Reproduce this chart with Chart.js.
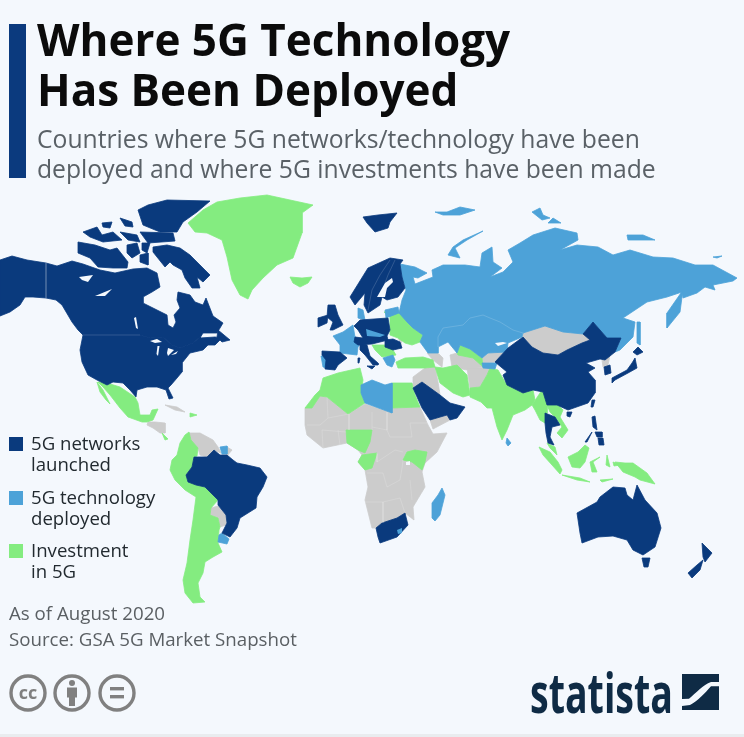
<!DOCTYPE html>
<html><head><meta charset="utf-8">
<script src="https://cdn.jsdelivr.net/npm/chart.js@4"></script>
<style>
html,body{margin:0;padding:0;background:#f4f8fd;width:744px;height:737px;overflow:hidden}
#wrap{position:relative;width:744px;height:737px;font-family:"Open Sans",sans-serif}
canvas{position:absolute;left:0;top:0}
.t{position:absolute;white-space:nowrap}
.sw{position:absolute;left:9px;width:14px;height:14px}
.lg{left:31px;font-size:18.6px;line-height:21px;color:#222a30}
.ft{left:9px;font-size:18.7px;line-height:24px;color:#5a5f63}
</style></head><body><div id="wrap">
<canvas id="c" width="744" height="737"></canvas>
<div class="t" style="left:0;top:734px;width:744px;height:3px;background:#e9ecef"></div>
<div class="t" style="left:9px;top:24px;width:17px;height:154px;background:#0b3a7e"></div>
<div class="t" style="left:37px;top:16.5px;font-size:44px;font-weight:700;line-height:44px;color:#0b0b0b">Where 5G Technology</div>
<div class="t" style="left:37px;top:66.5px;font-size:44px;font-weight:700;line-height:44px;color:#0b0b0b">Has Been Deployed</div>
<div class="t" style="left:37px;top:123.5px;font-size:24.7px;line-height:30px;color:#5a6167">Countries where 5G networks/technology have been</div>
<div class="t" style="left:37px;top:153.5px;font-size:24.7px;line-height:30px;color:#5a6167">deployed and where 5G investments have been made</div>
<div class="sw" style="top:437px;background:#0a3a7d"></div>
<div class="t lg" style="top:432px">5G networks<br>launched</div>
<div class="sw" style="top:491px;background:#4da2d8"></div>
<div class="t lg" style="top:486px">5G technology<br>deployed</div>
<div class="sw" style="top:544px;background:#84ec80"></div>
<div class="t lg" style="top:539px">Investment<br>in 5G</div>
<div class="t ft" style="top:601px">As of August 2020</div>
<div class="t ft" style="top:627px">Source: GSA 5G Market Snapshot</div>
<svg class="t" style="left:0;top:665px" width="140" height="60" fill="none">
<g stroke="#808080" stroke-width="3.4"><circle cx="28" cy="28" r="17"/><circle cx="72" cy="28" r="17"/><circle cx="117" cy="28" r="17"/></g>
<text x="28" y="34" font-family="Open Sans" font-size="18" font-weight="700" fill="#808080" text-anchor="middle">cc</text>
<g fill="#808080"><circle cx="72" cy="18" r="3"/><rect x="67" y="22.5" width="10" height="10"/><rect x="69" y="32" width="6" height="9"/><rect x="110" y="22" width="14" height="3.4"/><rect x="110" y="30" width="14" height="3.4"/></g>
</svg>
<div class="t" style="left:530px;top:656px;font-weight:700;font-size:56px;line-height:70px;color:#0f2b45;transform-origin:0 0;transform:scaleX(.67)">statista</div>
<svg class="t" style="left:682px;top:674px" width="37" height="37" fill="#0f2b45"><path d="M0 0H37V8H29C21 11 14 19 7 24.7L0 25Z"/><path d="M37 12.3H29C23 19 16 27 8 31L0 32V36H37Z"/></svg>
</div>
<script>
// Outlines, in its own map units (x across, y down).
const alaska=[[0,260],[12,256],[27,260],[46,263],[46,298],[33,297],[25,297],[20,305],[10,312],[0,316]];
const canada=[[46,263],[57,266],[72,261],[83,264],[100,270],[115,273],[133,269],[147,268],[157,273],[160,287],[152,292],[143,297],[143,303],[155,309],[167,315],[168,325],[173,328],[176,322],[174,315],[180,308],[177,300],[178,292],[190,295],[195,302],[203,305],[206,298],[213,316],[223,323],[217,333],[203,333],[200,338],[215,337],[222,338],[215,345],[208,345],[200,337],[193,343],[180,348],[172,345],[163,337],[150,338],[140,335],[83,335],[78,330],[72,322],[62,305],[56,300],[46,298]];
const newfoundland=[[218,330],[230,340],[222,342],[217,337]];
const baffin=[[153,247],[167,245],[180,248],[190,255],[200,265],[210,275],[203,282],[197,277],[200,288],[192,288],[185,278],[182,270],[173,265],[170,262],[165,267],[157,257],[153,252]];
const victoria=[[78,242],[95,245],[110,250],[117,248],[128,262],[127,268],[113,268],[98,267],[90,258],[78,253]];
const ellesmere=[[148,205],[167,200],[210,201],[197,212],[183,222],[177,232],[160,232],[143,225],[138,210]];
const arcticA=[[83,232],[97,227],[102,235],[113,232],[122,240],[103,242],[90,237]];
const arcticB=[[120,218],[132,222],[133,227],[125,226]];
const arcticC=[[120,232],[137,235],[140,242],[128,240]];
const arcticD=[[127,245],[137,243],[140,253],[132,258],[127,253]];
const arcticE=[[140,255],[148,253],[148,265],[140,262]];
const arcticF=[[142,243],[150,243],[147,253],[142,250]];
const arcticG=[[140,232],[173,233],[175,241],[148,243]];
const arcticH=[[102,223],[112,222],[110,228],[103,227]];
const usa=[[83,335],[140,335],[150,338],[163,337],[172,345],[180,348],[193,343],[200,337],[208,345],[203,350],[190,353],[182,363],[182,372],[177,378],[171,385],[168,388],[173,398],[169,399],[166,390],[157,387],[147,387],[137,390],[136,397],[130,390],[123,383],[113,382],[107,385],[97,380],[88,375],[82,362],[80,350]];
const brazil=[[207,457],[214,450],[220,455],[227,455],[233,460],[237,463],[247,465],[260,468],[267,477],[263,487],[257,497],[256,508],[248,513],[240,518],[237,528],[230,537],[222,533],[227,523],[226,515],[218,505],[218,500],[205,487],[196,485],[188,482],[186,475],[192,467],[194,457],[202,457]];
const uk=[[328,305],[335,305],[338,315],[343,325],[333,330],[330,330],[333,322],[327,317]];
const ireland=[[318,318],[328,315],[327,323],[318,327]];
const spain=[[322,351],[340,352],[347,358],[338,365],[335,370],[325,369],[326,360],[322,355]];
const scandinavia=[[350,297],[368,268],[390,258],[403,260],[400,264],[402,277],[405,288],[398,297],[387,300],[382,297],[380,305],[368,313],[364,305],[365,293],[355,305]];
const svalbard=[[363,217],[378,215],[397,213],[390,222],[388,228],[375,232],[367,223]];
const centralEurope=[[354,326],[360,320],[388,318],[390,330],[387,336],[388,340],[372,344],[358,345],[354,342],[355,337],[363,338],[358,330]];
const italy=[[360,343],[367,345],[370,356],[378,363],[378,365],[373,365],[365,355],[360,350]];
const sicily=[[367,366],[375,366],[372,369]];
const sardinia=[[358,358],[360,358],[359,363],[358,363]];
const romania=[[385,340],[393,339],[400,342],[402,348],[393,350],[385,347]];
const china=[[593,322],[607,338],[621,338],[615,352],[605,360],[600,359],[586,363],[595,368],[588,372],[595,380],[595,393],[588,403],[568,410],[557,405],[547,405],[543,392],[533,390],[523,393],[507,385],[503,375],[507,372],[495,362],[508,348],[523,337],[532,347],[543,353],[558,355],[567,350],[582,343],[590,340],[583,334]];
const southKorea=[[604,367],[610,365],[611,373],[605,375]];
const honshu=[[635,358],[637,368],[628,373],[615,380],[612,383],[612,378],[627,370],[632,363]];
const hokkaido=[[633,352],[638,347],[643,352],[637,355]];
const taiwan=[[592,400],[595,400],[593,407],[591,407]];
const hainan=[[567,412],[572,412],[570,417],[567,416]];
const luzon=[[592,417],[595,416],[597,430],[593,427]];
const visayas=[[595,432],[602,432],[602,437],[597,437]];
const mindanao=[[598,438],[603,438],[604,445],[599,445]];
const palawan=[[585,442],[592,432],[587,442]];
const thailand=[[545,413],[555,417],[560,425],[552,427],[550,437],[554,445],[548,443],[546,433],[545,423]];
const saudi=[[413,388],[422,382],[440,395],[450,403],[465,407],[457,418],[450,420],[447,415],[430,420],[422,408]];
const southAfrica=[[376,528],[382,523],[397,518],[405,513],[408,525],[397,537],[380,543],[378,537]];
const australia=[[577,513],[597,502],[600,497],[613,487],[625,488],[627,495],[633,500],[637,485],[645,500],[657,513],[661,528],[655,547],[643,555],[633,550],[627,540],[613,536],[598,537],[582,543],[580,533]];
const tasmania=[[642,558],[650,558],[648,567],[644,567]];
const nzNorth=[[702,543],[712,553],[705,562],[703,557]];
const nzSouth=[[703,560],[700,570],[692,578],[688,573],[697,565]];

const russiaKazakhstan=[[400,264],[415,267],[427,273],[418,278],[413,277],[415,284],[433,277],[432,270],[443,265],[465,265],[480,267],[482,253],[492,247],[493,262],[502,268],[490,277],[503,272],[513,262],[508,250],[520,243],[533,235],[555,228],[577,233],[578,240],[560,250],[577,245],[598,247],[613,255],[630,250],[653,257],[673,258],[695,265],[713,265],[737,278],[733,281],[713,285],[715,290],[705,287],[697,293],[683,298],[682,292],[667,297],[647,302],[623,318],[635,322],[633,337],[620,350],[615,352],[621,338],[607,338],[593,322],[583,334],[563,332],[545,326],[523,333],[522,337],[508,343],[507,352],[488,353],[482,358],[470,349],[460,345],[457,353],[448,342],[438,347],[438,353],[428,353],[420,342],[423,335],[413,328],[407,322],[399,313],[402,300],[406,290],[402,277]];
const kamchatka=[[683,290],[667,313],[667,328],[680,312],[682,297]];
const sakhalin=[[637,322],[640,322],[640,345],[637,343]];
const novayaZemlya=[[483,231],[463,240],[453,247],[448,255],[460,258],[455,248],[467,240]];
const franzJosef=[[435,212],[447,212],[460,207],[475,210],[460,215],[443,215]];
const severnayaA=[[532,212],[540,208],[543,215],[550,218],[542,220]];
const severnayaB=[[548,223],[553,218],[561,223]];
const newSiberian=[[627,235],[643,235],[655,240],[643,240],[628,240]];
const wrangel=[[713,257],[722,256],[717,258]];
const suriname=[[220,447],[227,446],[227,454],[222,454]];
const uruguay=[[222,533],[229,539],[227,544],[218,542],[219,535]];
const baltics=[[385,310],[398,307],[399,313],[386,318]];
const denmark=[[358,308],[363,310],[365,320],[358,318]];
const france=[[333,336],[343,332],[353,325],[355,337],[363,340],[358,347],[357,355],[340,353],[340,345]];
const portugal=[[321,356],[326,356],[327,368],[323,367]];
const greece=[[383,358],[393,355],[395,360],[392,367],[387,365]];
const libya=[[361,385],[372,380],[385,385],[392,383],[392,413],[365,403],[361,393]];
const madagascar=[[442,488],[445,495],[440,515],[435,521],[432,518],[432,503],[438,495]];
const sriLanka=[[507,438],[511,443],[508,446],[506,443]];
const tajikistan=[[482,363],[497,363],[495,369],[483,368]];
const czechia=[[366,329],[385,335],[380,337],[367,336]];
const lesotho=[[397,530],[402,528],[402,533],[398,534]];

const greenland=[[188,223],[203,210],[217,202],[240,198],[267,195],[290,200],[313,205],[302,213],[302,233],[293,258],[277,265],[263,278],[252,290],[248,299],[240,295],[232,280],[227,257],[222,240],[207,233],[195,232]];
const iceland=[[290,277],[302,278],[312,277],[308,283],[300,287],[293,283]];
const mexico=[[98,382],[107,383],[120,387],[135,397],[138,403],[140,415],[150,415],[152,410],[158,409],[153,420],[147,422],[142,422],[128,417],[120,408],[110,395],[103,387]];
const baja=[[97,382],[103,390],[110,404],[106,400],[100,392]];
const panama=[[162,433],[168,439],[165,440]];
const dominican=[[190,413],[197,415],[190,417]];
const andes=[[189,432],[191,440],[198,448],[197,456],[194,457],[192,467],[186,475],[188,482],[196,485],[205,487],[213,495],[218,500],[211,508],[210,515],[218,518],[220,527],[219,530],[218,543],[222,552],[213,557],[205,562],[203,573],[198,583],[200,597],[205,602],[193,603],[185,593],[183,580],[187,563],[190,540],[193,520],[196,497],[185,490],[175,480],[170,470],[172,460],[177,455],[180,443],[185,435]];
const belarusUkraine=[[384,312],[398,310],[407,322],[413,328],[423,335],[420,342],[412,345],[405,343],[398,338],[390,335],[390,317]];
const balkans=[[372,345],[385,345],[393,350],[396,355],[382,357],[375,350]];
const turkey=[[396,362],[405,358],[423,357],[433,360],[435,367],[425,368],[407,368],[398,368]];
const maghreb=[[305,408],[315,395],[320,390],[323,378],[338,373],[360,368],[363,380],[361,393],[365,403],[348,414],[327,397],[320,396],[312,408]];
const egypt=[[392,383],[412,383],[415,395],[420,407],[392,408]];
const nigeria=[[346,430],[372,430],[370,442],[365,453],[358,450],[347,443]];
const gabon=[[358,462],[362,455],[377,453],[372,468],[365,470]];
const kenyaUganda=[[403,460],[407,452],[415,450],[427,452],[425,462],[422,470],[412,462]];
const iran=[[435,367],[443,368],[457,365],[467,375],[470,395],[463,397],[453,393],[440,383]];
const turkmenUzbek=[[457,353],[460,345],[470,349],[482,358],[483,367],[473,358],[458,355]];
const southAsia=[[470,388],[480,387],[487,375],[490,368],[498,370],[505,382],[513,388],[523,393],[533,390],[535,400],[532,405],[525,410],[513,415],[507,430],[502,440],[497,427],[492,408],[487,408],[481,402],[470,397]];
const myanmar=[[532,405],[542,390],[547,403],[547,413],[545,423],[540,420],[535,410]];
const indochina=[[547,405],[558,405],[563,410],[560,417],[568,430],[562,438],[557,433],[562,427],[555,417],[550,412]];
const malaya=[[547,443],[555,447],[557,455],[550,448]];
const sumatra=[[539,447],[550,452],[558,462],[562,470],[560,474],[552,465],[543,455]];
const borneo=[[568,457],[578,452],[585,445],[589,448],[585,462],[580,468],[572,467]];
const java=[[562,475],[580,478],[590,482],[577,480]];
const sulawesi=[[590,462],[600,457],[593,462],[597,472],[592,472]];
const halmahera=[[607,455],[610,467],[606,465]];
const ceram=[[613,462],[620,465],[614,466]];
const timor=[[600,480],[613,479],[602,482]];
const newGuinea=[[615,462],[625,463],[633,463],[647,473],[655,484],[640,480],[635,477],[623,472]];

const africaGrey=[[305,408],[312,408],[320,396],[327,397],[348,414],[365,404],[392,413],[392,408],[420,407],[428,425],[433,434],[447,433],[437,452],[425,463],[422,472],[425,487],[413,507],[414,520],[405,513],[397,518],[382,523],[376,528],[372,528],[365,500],[368,487],[365,470],[358,462],[362,455],[358,450],[347,443],[323,448],[307,435],[305,425]];
const mongolia=[[523,333],[545,326],[563,332],[583,334],[590,340],[582,343],[567,350],[558,355],[543,353],[532,347],[523,337]];
const northKorea=[[602,360],[610,355],[608,365],[603,367]];
const levantIraq=[[413,387],[413,377],[425,368],[435,367],[438,382],[440,395],[422,382]];
const yemenOman=[[430,420],[447,415],[450,420],[433,429]];
const afghanistan=[[467,368],[490,368],[487,375],[480,387],[470,388]];
const caucasus=[[427,353],[438,353],[443,358],[442,367],[433,360]];
const caspianEast=[[450,355],[457,353],[473,358],[483,367],[477,368],[467,370],[452,367]];
const kyrgyzstan=[[482,358],[488,353],[507,352],[498,362],[483,363]];
const centralAmerica=[[148,422],[155,422],[165,423],[165,433],[160,433],[153,428],[147,425]];
const cuba=[[165,405],[177,407],[185,412],[175,410]];
const venezuelaGuyana=[[189,433],[200,433],[213,440],[218,447],[221,453],[214,450],[207,457],[200,455],[198,448],[192,442]];
const frenchGuiana=[[227,447],[232,450],[227,456]];
const paraguay=[[211,508],[218,506],[226,515],[226,525],[220,527],[218,518],[210,515]];
const moldova=[[398,337],[402,337],[401,345]];

const lakeSuperior=[[150,341],[157,339],[162,342],[155,343]];
const lakeMichigan=[[157.5,346],[159.5,346],[158,356],[156.5,354]];
const lakeHuron=[[168,348],[174,350],[168,356],[167,353]];
const lakeErie=[[171,355],[178,351],[176,354]];
const lakeWinnipeg=[[134,318],[136,317],[138,329],[136,328]];
const greatSlave=[[95,296],[112,289],[105,296]];
const greatBear=[[79,277],[93,275],[88,282],[82,280]];
const bothnia=[[377,297],[385,283],[392,278],[393,282],[387,288],[385,297]];
const balkhash=[[495,343],[503,342],[507,343],[498,346]];
const lakeVictoria=[[406,462],[410,461],[410,465],[406,465]];

// faint internal borders
const borderUsCanada=[[83,335],[140,335]];
const borderAlaska=[[46,263],[46,298]];
const borderKazakh=[[438,347],[438,337],[443,328],[463,325],[470,318],[483,315],[490,318],[500,322],[513,330],[523,333]];
const borderNorway=[[390,260],[380,275],[372,290],[368,310]];
const borderFinland=[[395,260],[388,275],[385,283]];
const borderA=[[327,397],[328,418],[349,414]];
const borderB=[[349,414],[349,430]];
const borderC=[[372,430],[372,412]];
const borderD=[[372,427],[387,430],[390,437],[412,437],[410,423],[428,423]];
const borderE=[[387,412],[387,430]];
const borderF=[[307,425],[320,425],[328,418]];
const borderG=[[323,448],[322,430],[346,432]];
const borderH=[[340,445],[338,430]];
const borderI=[[367,473],[383,473],[387,487],[400,480],[402,468],[403,460]];
const borderJ=[[365,502],[383,502],[383,523]];
const borderK=[[383,502],[400,498],[405,513]];
const borderL=[[410,480],[412,500]];
const borderM=[[377,453],[377,462],[395,450],[403,452]];

const launched=[alaska,canada,newfoundland,baffin,victoria,ellesmere,arcticA,arcticB,arcticC,arcticD,arcticE,arcticF,arcticG,arcticH,usa,brazil,uk,ireland,spain,scandinavia,svalbard,centralEurope,italy,sicily,sardinia,romania,china,southKorea,honshu,hokkaido,taiwan,hainan,luzon,visayas,mindanao,palawan,thailand,saudi,southAfrica,australia,tasmania,nzNorth,nzSouth];
const deployed=[russiaKazakhstan,kamchatka,sakhalin,novayaZemlya,franzJosef,severnayaA,severnayaB,newSiberian,wrangel,suriname,uruguay,baltics,denmark,france,portugal,greece,libya,madagascar,sriLanka,tajikistan];
const deployedOnTop=[czechia,lesotho];
const investment=[greenland,iceland,mexico,baja,panama,dominican,andes,belarusUkraine,balkans,turkey,maghreb,egypt,nigeria,gabon,kenyaUganda,iran,turkmenUzbek,southAsia,myanmar,indochina,malaya,sumatra,borneo,java,sulawesi,halmahera,ceram,timor,newGuinea];
const noData=[africaGrey,mongolia,northKorea,levantIraq,yemenOman,afghanistan,caucasus,caspianEast,kyrgyzstan,centralAmerica,cuba,venezuelaGuyana,frenchGuiana,paraguay,moldova];
const water=[lakeSuperior,lakeMichigan,lakeHuron,lakeErie,lakeWinnipeg,greatSlave,greatBear,bothnia,balkhash,lakeVictoria];
const borders=[borderUsCanada,borderAlaska,borderKazakh,borderNorway,borderFinland,borderA,borderB,borderC,borderD,borderE,borderF,borderG,borderH,borderI,borderJ,borderK,borderL,borderM];

const mapWidth=744, mapHeight=737;
const colors={launched:'#0a3a7d',deployed:'#4da2d8',investment:'#84ec80',noData:'#cccccc',water:'#f4f8fd',border:'rgba(255,255,255,0.2)'};
function toDatasets(list,color,order){
  return list.map(poly=>({
    data:poly.concat([poly[0]]).map(p=>({x:p[0],y:p[1]})),
    showLine:true,fill:'shape',tension:0,pointRadius:0,order:order,
    backgroundColor:color,borderColor:color,borderWidth:order<2?0:0.8
  }));
}
function toLines(list,color,order){
  return list.map(line=>({
    data:line.map(p=>({x:p[0],y:p[1]})),
    showLine:true,fill:false,tension:0,pointRadius:0,order:order,
    borderColor:color,borderWidth:0.8
  }));
}
new Chart(document.getElementById('c'),{
  type:'scatter',
  data:{datasets:[].concat(
    toLines(borders,colors.border,0),
    toDatasets(water,colors.water,1),
    toDatasets(deployedOnTop,colors.deployed,1),
    toDatasets(launched,colors.launched,2),
    toDatasets(deployed,colors.deployed,3),
    toDatasets(investment,colors.investment,4),
    toDatasets(noData,colors.noData,5)
  )},
  options:{
    responsive:false,animation:false,devicePixelRatio:1,
    layout:{padding:0},
    plugins:{legend:{display:false},tooltip:{enabled:false},title:{display:false}},
    scales:{
      x:{type:'linear',min:0,max:mapWidth,display:false},
      y:{type:'linear',min:0,max:mapHeight,reverse:true,display:false}
    }
  }
});
</script>
</body></html>
